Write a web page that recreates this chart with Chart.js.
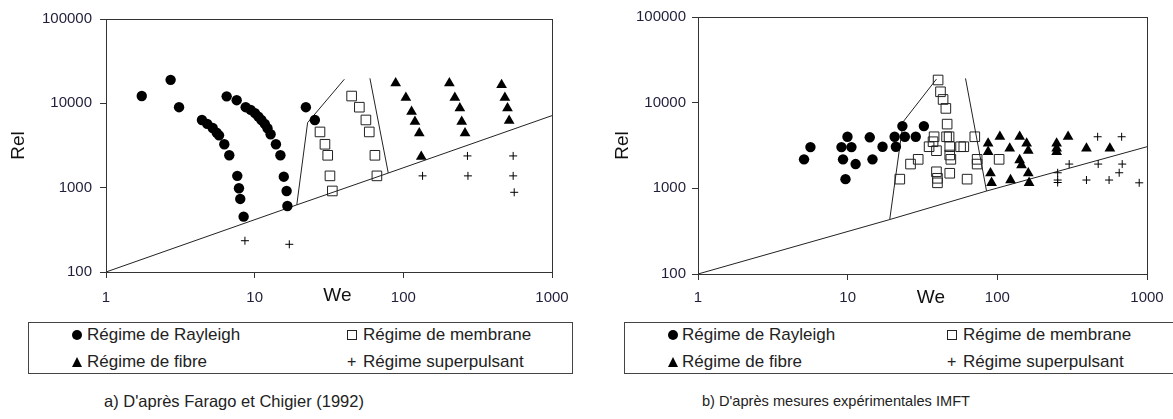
<!DOCTYPE html>
<html>
<head>
<meta charset="utf-8">
<script src="https://cdn.jsdelivr.net/npm/chart.js@4.4.1/dist/chart.umd.min.js"></script>
<style>
  body { margin: 0; background: #fff; font-family: "Liberation Sans", Arial, sans-serif; }
  #page { position: relative; width: 1173px; height: 419px; overflow: hidden; }
  canvas { position: absolute; top: 0; }
  .legend { position: absolute; top: 322px; height: 52px; box-sizing: border-box; border: 1px solid #444; }
  .item { position: absolute; height: 20px; line-height: 20px; font-size: 17px; color: #222; white-space: nowrap; }
  .mk { position: absolute; }
  .dot { width: 10px; height: 10px; border-radius: 50%; background: #000; top: 5px; }
  .tri { width: 0; height: 0; border-left: 5.5px solid transparent; border-right: 5.5px solid transparent; border-bottom: 10px solid #000; top: 5px; }
  .sq { width: 10px; height: 10px; border: 1px solid #222; box-sizing: border-box; top: 5px; }
  .plus { font-size: 16px; top: 0; }
  .caption { position: absolute; top: 392px; font-size: 16.5px; color: #222; white-space: nowrap; }
</style>
</head>
<body>
<div id="page">
  <canvas id="chartA" width="580" height="312" style="left:0"></canvas>
  <canvas id="chartB" width="593" height="312" style="left:580px"></canvas>

  <div class="legend" style="left:28px; width:545px;">
    <div class="item" style="left:43px; top:2px;"><span class="mk dot" style="left:0"></span><span style="position:absolute; left:15px;">Régime de Rayleigh</span></div>
    <div class="item" style="left:43px; top:29px;"><span class="mk tri" style="left:0"></span><span style="position:absolute; left:15px;">Régime de fibre</span></div>
    <div class="item" style="left:318px; top:2px;"><span class="mk sq" style="left:0"></span><span style="position:absolute; left:16px;">Régime de membrane</span></div>
    <div class="item" style="left:318px; top:29px;"><span class="mk plus" style="left:0">+</span><span style="position:absolute; left:16px;">Régime superpulsant</span></div>
  </div>
  <div class="caption" style="left:104px;">a) D'après Farago et Chigier (1992)</div>

  <div class="legend" style="left:624px; width:560px;">
    <div class="item" style="left:43px; top:2px;"><span class="mk dot" style="left:0"></span><span style="position:absolute; left:14px;">Régime de Rayleigh</span></div>
    <div class="item" style="left:43px; top:29px;"><span class="mk tri" style="left:0"></span><span style="position:absolute; left:14px;">Régime de fibre</span></div>
    <div class="item" style="left:322px; top:2px;"><span class="mk sq" style="left:0"></span><span style="position:absolute; left:16px;">Régime de membrane</span></div>
    <div class="item" style="left:322px; top:29px;"><span class="mk plus" style="left:0">+</span><span style="position:absolute; left:16px;">Régime superpulsant</span></div>
  </div>
  <div class="caption" style="left:702px; font-size:14.6px; top:393px;">b) D'après mesures expérimentales IMFT</div>
</div>

<script>
// axis ticks (decades)
const weTicks = [1, 10, 100, 1000];
const relTicks = [100, 1000, 10000, 100000];

// a) Farago & Chigier (1992) -- [We, Rel]
const aRayleigh = [
  [1.74, 12200], [2.72, 19000], [3.1, 9000], [4.42, 6350], [4.8, 5700], [5.22, 5100],
  [5.55, 4500], [5.76, 4170], [6.25, 3270], [6.75, 2420], [7.64, 1380], [7.84, 985],
  [8.0, 735], [8.43, 453],
  [6.48, 12100], [7.57, 10900], [8.7, 9000], [9.4, 8360], [10.05, 7640], [10.6, 6950],
  [11.1, 6350], [11.7, 5700], [12.2, 5070], [12.8, 4300], [13.9, 3270], [14.9, 2420],
  [15.7, 1350], [16.4, 914], [16.6, 607],
  [22.1, 9000], [25.4, 6350]
];
const aMembrane = [
  [27.5, 4580], [29.7, 3270], [31, 2420], [32.1, 1380], [33.3, 914],
  [44.9, 12200], [50.6, 9000], [56, 6350], [59, 4580], [64.4, 2420], [66.4, 1380]
];
const aFibre = [
  [88.8, 17300], [104, 11700], [113.6, 7980], [119.7, 6070], [128, 4420], [132, 2330],
  [204, 17300], [222, 11700], [240, 8750], [247, 6070], [260, 4420],
  [458, 16500], [482, 11700], [502, 8750], [515, 6240]
];
const aSuper = [
  [8.6, 235], [17.1, 213], [134.7, 1380], [270, 2380], [272, 1380],
  [548, 2380], [548, 1380], [557, 881]
];
const aBottomLine = [[1, 100], [19.2, 625], [79.2, 1490], [1000, 7150]];
const aLeftLine = [[19.2, 625], [22.7, 5900], [40.1, 19300]];
const aRightLine = [[59.6, 19800], [79.2, 1490]];

// b) IMFT measurements -- [We, Rel]
const bRayleigh = [
  [5.11, 2180], [5.64, 3030], [9.09, 3030], [9.31, 2180], [9.97, 4000], [10.6, 3030],
  [9.67, 1280], [11.3, 1920], [14.05, 3940], [14.65, 2180], [17.1, 3060], [20.6, 4000],
  [21, 3060], [23.2, 5330], [24.1, 4000], [28.5, 4000], [32.3, 5330]
];
const bMembrane = [
  [40.2, 18400], [41.7, 13400], [43.4, 10900], [45.3, 8570], [46.2, 5620], [37.8, 4000],
  [45.8, 4000], [47.6, 4000], [37.2, 3500], [35, 3060], [39.2, 2750], [48.1, 3060],
  [48.1, 2450], [48.9, 2180], [56.8, 3060], [59.7, 3060], [70.7, 4000], [73.3, 2180],
  [73.3, 1920], [102.8, 2180], [29.6, 2180], [26.3, 1920], [22.3, 1280], [39.2, 1560],
  [39.8, 1310], [39.8, 1160], [48.1, 1500], [62.8, 1280]
];
const bFibre = [
  [86.8, 3350], [86.8, 2670], [104, 4000], [121, 2930], [141, 4000], [157, 3350],
  [161, 2750], [141, 2140], [145, 1870], [161, 1500], [163, 1160], [90, 1500],
  [91.5, 1160], [122.5, 1250], [249, 3350], [249, 2930], [249, 2670], [297, 4000],
  [394, 2930], [565, 2930]
];
const bSuper = [
  [468, 4000], [677, 4000], [302, 1920], [472, 1920], [683, 1920], [652, 1520],
  [253, 1520], [253, 1250], [253, 1170], [394, 1250], [558, 1250], [887, 1160]
];
const bBottomLine = [[1, 100], [19.1, 432], [84.7, 930], [1000, 3060]];
const bLeftLine = [[19.1, 432], [23.5, 5990], [39.2, 18850]];
const bRightLine = [[61.3, 19200], [84.7, 930]];

const toXY = (arr) => arr.map(([x, y]) => ({ x, y }));
const tickColor = '#1f1f3a';

// box round the plot area + the "We" label sitting between 10 and 100
const framePlugin = {
  id: 'frame',
  afterDraw(chart) {
    const { ctx, chartArea: a, scales } = chart;
    ctx.save();
    ctx.strokeStyle = '#333';
    ctx.lineWidth = 1;
    ctx.strokeRect(Math.round(a.left) + 0.5, Math.round(a.top) + 0.5,
                   Math.round(a.right - a.left), Math.round(a.bottom - a.top));
    ctx.font = '19px "Liberation Sans", Arial, sans-serif';
    ctx.fillStyle = '#111';
    ctx.textAlign = 'center';
    ctx.textBaseline = 'middle';
    ctx.fillText('We', scales.x.getPixelForValue(36), scales.x.top + 24);
    ctx.restore();
  }
};

function makeChart(id, sets, lines, layout) {
  const datasets = [
    { data: toXY(sets.rayleigh), pointStyle: 'circle', pointRadius: 5.2, backgroundColor: '#000', borderColor: '#000', borderWidth: 0 },
    { data: toXY(sets.membrane), pointStyle: 'rect', pointRadius: 6.8, backgroundColor: 'transparent', borderColor: '#222', borderWidth: 1 },
    { data: toXY(sets.fibre), pointStyle: 'triangle', pointRadius: 6.2, backgroundColor: '#000', borderColor: '#000', borderWidth: 0 },
    { data: toXY(sets.superp), pointStyle: 'cross', pointRadius: 4, borderColor: '#000', borderWidth: 1 },
  ];
  lines.forEach((l) => {
    datasets.push({ type: 'line', data: toXY(l), borderColor: '#222', borderWidth: 1, pointRadius: 0, fill: false, tension: 0 });
  });

  return new Chart(document.getElementById(id), {
    type: 'scatter',
    data: { datasets },
    plugins: [framePlugin],
    options: {
      responsive: false,
      animation: false,
      events: [],
      layout: { padding: layout.padding },
      plugins: { legend: { display: false }, tooltip: { enabled: false } },
      scales: {
        x: {
          type: 'logarithmic',
          min: 1,
          max: 1000,
          afterBuildTicks: (s) => { s.ticks = weTicks.map((v) => ({ value: v })); },
          afterFit: (s) => { s.height = layout.xHeight; },
          ticks: { callback: (v) => String(v), color: tickColor, font: { size: 15, family: '"Liberation Sans", Arial' }, padding: layout.xPad, maxRotation: 0 },
          grid: { drawOnChartArea: false, drawTicks: true, tickLength: 6, color: '#333' },
          border: { color: '#333' },
        },
        y: {
          type: 'logarithmic',
          min: 100,
          max: 100000,
          afterBuildTicks: (s) => { s.ticks = relTicks.map((v) => ({ value: v })); },
          afterFit: (s) => { s.width = layout.yWidth; },
          ticks: { callback: (v) => String(v), color: tickColor, font: { size: 15, family: '"Liberation Sans", Arial' }, padding: layout.yPad },
          grid: { drawOnChartArea: false, drawTicks: true, tickLength: 6, color: '#333' },
          border: { color: '#333' },
          title: { display: true, text: 'Rel', color: '#111', font: { size: 19, family: '"Liberation Sans", Arial' }, padding: { top: 7, bottom: 0 } },
        },
      },
    },
  });
}

makeChart('chartA',
  { rayleigh: aRayleigh, membrane: aMembrane, fibre: aFibre, superp: aSuper },
  [aBottomLine, aLeftLine, aRightLine],
  { padding: { left: 0, top: 19, right: 28, bottom: 0 }, yWidth: 106, xHeight: 40, xPad: 11, yPad: 8 });

makeChart('chartB',
  { rayleigh: bRayleigh, membrane: bMembrane, fibre: bFibre, superp: bSuper },
  [bBottomLine, bLeftLine, bRightLine],
  { padding: { left: 24, top: 17, right: 26, bottom: 0 }, yWidth: 94, xHeight: 38, xPad: 9, yPad: 6 });
</script>
</body>
</html>
